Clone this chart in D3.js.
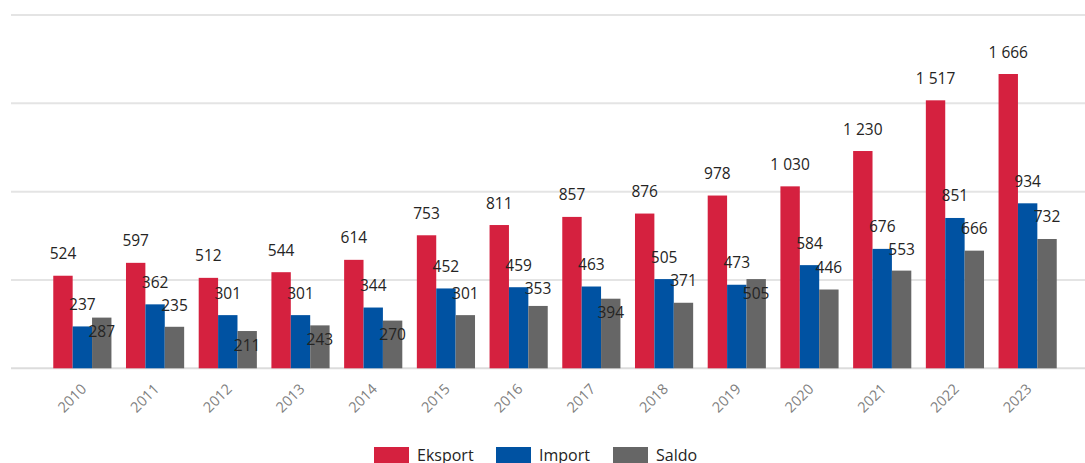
<!DOCTYPE html>
<html>
<head>
<meta charset="utf-8">
<script src="https://cdn.jsdelivr.net/npm/d3@7"></script>
<style>
  html, body { margin: 0; padding: 0; background: #fff; }
  svg { display: block; font-family: "Open Sans", "Noto Sans", sans-serif; }
</style>
</head>
<body>
<svg id="chart" width="1085" height="463"></svg>
<script>
const years = ["2010","2011","2012","2013","2014","2015","2016","2017","2018","2019","2020","2021","2022","2023"];
const eksport = [524, 597, 512, 544, 614, 753, 811, 857, 876, 978, 1030, 1230, 1517, 1666];
const importV = [237, 362, 301, 301, 344, 452, 459, 463, 505, 473, 584, 676, 851, 934];
const saldo   = [287, 235, 211, 243, 270, 301, 353, 394, 371, 505, 446, 553, 666, 732];
const seriesNames = ["Eksport", "Import", "Saldo"];
const seriesColors = ["#d5213f", "#0052a2", "#666666"];
const gridTicks = [0, 500, 1000, 1500, 2000];

const svg = d3.select("#chart");
const W = 1085;

const x = d3.scaleBand().domain(years).range([46, 1064]).paddingInner(0.2).paddingOuter(0.1);
const xs = d3.scaleBand().domain(seriesNames).range([0, x.bandwidth()]).padding(0);
const y = d3.scaleLinear().domain([0, 2000]).range([368.3, 15]);
const color = d3.scaleOrdinal().domain(seriesNames).range(seriesColors);

const loc = d3.formatLocale({decimal: ",", thousands: "\u00a0", grouping: [3], currency: ["", ""]});
const fmt = loc.format(",d");

// gridlines
svg.append("g").selectAll("line").data(gridTicks).join("line")
  .attr("x1", 11).attr("x2", W)
  .attr("y1", d => y(d)).attr("y2", d => y(d))
  .attr("stroke", d => d === 0 ? "#dcdcdc" : "#e4e4e4")
  .attr("stroke-width", 2);

const data = years.map((yr, i) => ({
  year: yr,
  values: [
    {name: "Eksport", v: eksport[i]},
    {name: "Import", v: importV[i]},
    {name: "Saldo", v: saldo[i]}
  ]
}));

const groups = svg.append("g").selectAll("g").data(data).join("g")
  .attr("transform", d => `translate(${x(d.year)},0)`);

groups.selectAll("rect").data(d => d.values).join("rect")
  .attr("x", d => xs(d.name))
  .attr("width", xs.bandwidth())
  .attr("y", d => y(d.v))
  .attr("height", d => y(0) - y(d.v))
  .attr("fill", d => color(d.name));

// label placement (outside end, or inside end if colliding)
groups.each(function(d) {
  const g = d3.select(this);
  const centers = d.values.map(s => y(s.v) - 22);
  const eY = centers[0];
  const iY = centers[1];
  let sY = centers[2];
  const gap = sY - iY;
  if (gap < 18) sY = y(d.values[2].v) + 14;
  else if (gap < 23) sY = iY + 23;
  const ys = [eY, iY, sY];
  d.values.forEach((s, k) => {
    g.append("text")
      .attr("x", xs(s.name) + xs.bandwidth() / 2)
      .attr("y", ys[k] + 5.5)
      .attr("text-anchor", "middle")
      .attr("font-size", "15.5px")
      .attr("fill", "#252423")
      .text(fmt(s.v));
  });
});

// x axis labels
svg.append("g").selectAll("text").data(years).join("text")
  .attr("transform", d => `translate(${x(d) + x.bandwidth() / 2 + 5},390) rotate(-45)`)
  .attr("text-anchor", "end")
  .attr("font-size", "14.5px")
  .attr("fill", "#808080")
  .text(d => d);

// legend
const legendX = [374, 496, 613];
const leg = svg.append("g").selectAll("g").data(seriesNames).join("g")
  .attr("transform", (d, i) => `translate(${legendX[i]},447)`);
leg.append("rect").attr("width", 35).attr("height", 18).attr("fill", d => color(d));
leg.append("text").attr("x", 43).attr("y", 13.5)
  .attr("font-size", "16px").attr("fill", "#252423").text(d => d);
</script>
</body>
</html>
